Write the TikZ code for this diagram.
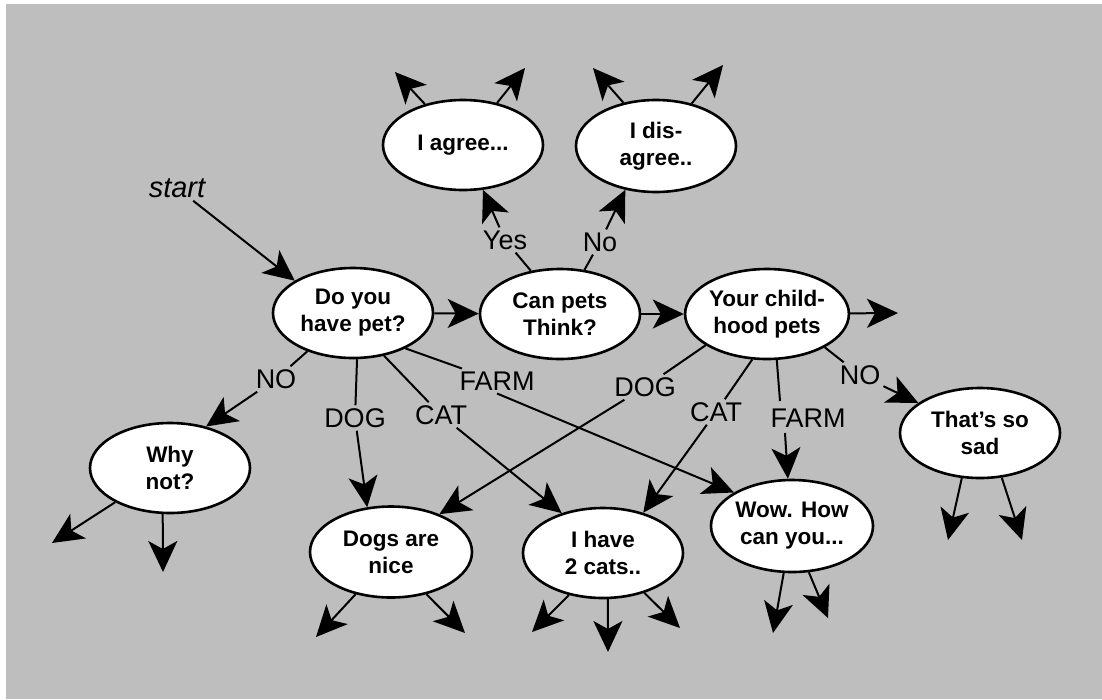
\documentclass[tikz,border=0pt]{standalone}
\usepackage{fontspec}
\setmainfont{Liberation Sans}
\usetikzlibrary{shapes.geometric,arrows.meta}
\definecolor{panel}{RGB}{190,190,190}
\begin{document}
\begin{tikzpicture}[x=1pt,y=-1pt,
  bubble/.style={ellipse, draw=black, fill=white, line width=2.6pt,
    minimum width=160pt, minimum height=90pt, inner sep=0pt, align=center,
    font=\fontsize{22.5}{27}\selectfont\bfseries},
  lab/.style={inner sep=3pt, font=\fontsize{27}{30}\selectfont},
  link/.style={line width=2pt, draw=black},
  arr/.style={link, -{Stealth[length=31pt,width=29pt,inset=8pt]}},
]
% page and grey panel
\fill[white] (0,0) rectangle (1102,699);
\fill[panel] (6,4) rectangle (1102,699);
\useasboundingbox (0,0) rectangle (1102,699);

% conversation bubbles
\node[bubble] (do) at (353,313) {Do you\\have pet?};
\node[bubble] (can) at (560,314) {Can pets\\Think?};
\node[bubble] (your) at (767,314) {Your child-\\hood pets};
\node[bubble] (agree) at (463,145) {I agree...};
\node[bubble, minimum height=92pt] (disagree) at (656,146) {I dis-\\agree..};
\node[bubble] (sad) at (980,433) {That’s so\\sad};
\node[bubble] (whyn) at (170,468) {Why\\not?};
\node[bubble, minimum width=162pt, minimum height=91pt] (dogs) at (391,552) {Dogs are\\nice};
\node[bubble] (cats) at (603,553) {I have\\2 cats..};
\node[bubble, minimum width=162pt, minimum height=92pt] (wow) at (792,526) {Wow. How\\can you...};

% answer labels
\node[lab, font=\fontsize{29}{32}\selectfont\itshape] (start) at (177,188) {start};
\node[lab] (yes) at (505,240) {Yes};
\node[lab] (no) at (600,242) {No};
\node[lab] (noL) at (276,379) {NO};
\node[lab] (dogL) at (355,418) {DOG};
\node[lab] (catL) at (441,415) {CAT};
\node[lab] (farmL) at (497,381) {FARM};
\node[lab] (dogR) at (645,387) {DOG};
\node[lab] (catR) at (716,412) {CAT};
\node[lab] (farmR) at (808,418) {FARM};
\node[lab] (noR) at (860,375) {NO};

% open ends
\coordinate (yourout) at (898,313);
\coordinate (a1) at (395,72);   \coordinate (a2) at (525,68);
\coordinate (d1) at (593,68);   \coordinate (d2) at (723,65);
\coordinate (f2a) at (780,401); \coordinate (f2b) at (785,433);
\coordinate (w1) at (52,543);   \coordinate (w2) at (163,572);
\coordinate (g1) at (316,637);  \coordinate (g2) at (465,633);
\coordinate (c1) at (532,632);  \coordinate (c2) at (608,652);  \coordinate (c3) at (680,628);
\coordinate (o1) at (773,633);  \coordinate (o2) at (828,618);
\coordinate (s1) at (948,540);  \coordinate (s2) at (1022,540);

% main line of questions
\draw[arr] (start) -- (do.151);
\draw[arr] (do) -- (can);
\draw[arr] (can) -- (your);
\draw[arr] (your) -- (yourout);

% can pets think?
\draw[link] (can.124) -- (yes);
\draw[arr] (yes) -- (agree.-66);
\draw[link] (can.61) -- (no);
\draw[arr] (no) -- (disagree.235);
\draw[arr] (agree.133) -- (a1);
\draw[arr] (agree.51) -- (a2);
\draw[arr] (disagree.127) -- (d1);
\draw[arr] (disagree.50) -- (d2);

% do you have pet?
\draw[link] (do.220) -- (noL);
\draw[arr] (noL) -- (whyn.49);
\draw[link] (do.-85) -- (dogL);
\draw[arr] (dogL) -- (dogs.118);
\draw[link] (do.-54) -- (catL);
\draw[arr] (catL) -- (cats.136);
\draw[link] (do.-34) -- (farmL);
\draw[arr] (farmL.south) -- (wow.150);

% your childhood pets
\draw[link] (your.207) -- (dogR);
\draw[arr] (dogR) -- (dogs.38);
\draw[link] (your.252) -- (catR);
\draw[arr] (catR) -- (cats.45);
\draw[link] (your.-78) -- (f2a);
\draw[arr] (f2b) -- (wow.95);
\draw[link] (your.-30) -- (noR);
\draw[arr] (noR) -- (sad.154);

% follow-ups
\draw[arr] (whyn.212) -- (w1);
\draw[arr] (whyn.-99) -- (w2);
\draw[arr] (dogs.230) -- (g1);
\draw[arr] (dogs.-50) -- (g2);
\draw[arr] (cats.231) -- (c1);
\draw[arr] (cats.-84) -- (c2);
\draw[arr] (cats.-44) -- (c3);
\draw[arr] (wow.-100) -- (o1);
\draw[arr] (wow.-70) -- (o2);
\draw[arr] (sad.-112) -- (s1);
\draw[arr] (sad.-64) -- (s2);
\end{tikzpicture}
\end{document}
